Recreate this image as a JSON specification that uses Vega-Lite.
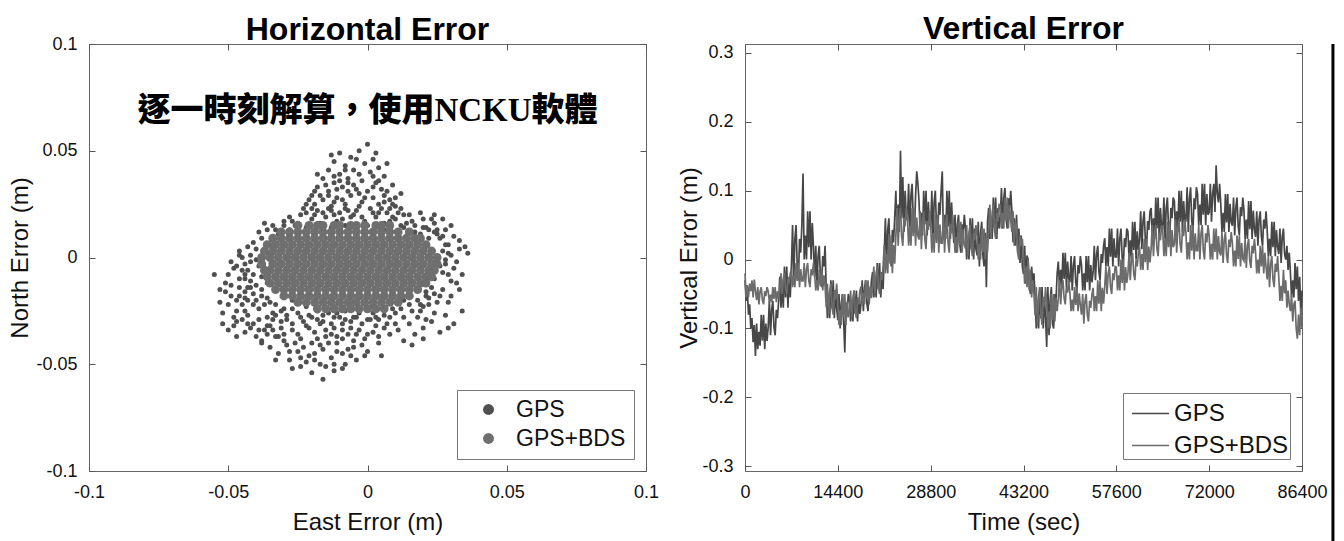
{
"$schema":"https://vega.github.io/schema/vega-lite/v6.json",
"background":"white",
"padding":{"left":8,"top":12,"right":0,"bottom":0},
"spacing":17,
"config":{
 "font":"Liberation Sans",
 "view":{"stroke":"#666666","strokeWidth":1},
 "axis":{"domain":false,"grid":false,"tickColor":"#555555","tickSize":-6,"labelPadding":18,"labelFontSize":18,"labelColor":"#111111","labelFlush":false,"labelOverlap":false,"titleFontSize":24,"titleFontWeight":"normal","titleColor":"#111111"},
 "axisX":{"titlePadding":9},
 "axisY":{"titlePadding":3},
 "title":{"fontSize":32,"fontWeight":"bold","color":"#000000","anchor":"middle"}
},
"resolve":{"scale":{"color":"independent"},"legend":{"color":"independent"}},
"hconcat":[
{
"width":557,"height":427,
"title":{"text":"Horizontal Error","offset":-12},
"layer":[
 {"data":{"values":"x,y\n0,0.053\n-0.003,0.05\n-0.01,0.049\n-0.006,0.047\n0.002,0.046\n-0.012,0.045\n-0.001,0.044\n-0.008,0.043\n0.004,0.042\n-0.014,0.041\n-0.005,0.041\n0.001,0.04\n-0.01,0.039\n0.006,0.038\n-0.016,0.037\n-0.007,0.037\n-0.002,0.036\n0.003,0.035\n-0.012,0.035\n0.009,0.034\n-0.018,0.033\n-0.009,0.033\n-0.004,0.032\n0.005,0.032\n0,0.031\n-0.014,0.031\n0.012,0.03\n-0.02,0.029\n-0.006,0.029\n0.002,0.028\n-0.011,0.028\n0.008,0.027\n-0.016,0.027\n-0.002,0.026\n0.004,0.025\n-0.022,0.025\n-0.008,0.025\n0.01,0.024\n-0.013,0.024\n-0.018,0.022\n0.001,0.023\n-0.004,0.022\n0.007,0.021\n-0.01,0.021\n0.013,0.02\n-0.024,0.02\n-0.015,0.019\n-0.006,0.019\n0.003,0.019\n0.01,0.018\n-0.02,0.018\n-0.001,0.017\n-0.011,0.017\n0.016,0.017\n0.006,0.016\n-0.027,0.017\n-0.017,0.016\n-0.008,0.015\n0,0.015\n0.012,0.015\n-0.03,0.015\n-0.022,0.014\n0.02,0.014\n-0.013,0.014\n0.006,0.013\n0.017,0.012\n0.024,0.012\n-0.017,0.029\n-0.003,0.03\n0.006,0.029\n-0.009,0.027\n-0.013,0.022\n0.004,0.021\n-0.019,0.025\n0.008,0.023\n-0.005,0.034\n-0.011,0.032\n-0.015,0.034\n-0.007,0.035\n0.002,0.033\n0.007,0.031\n-0.021,0.027\n-0.003,0.024\n-0.016,0.021\n-0.007,0.022\n0.005,0.023\n0.011,0.021\n-0.022,0.021\n-0.009,0.018\n0.008,0.017\n0.014,0.016\n-0.026,0.015\n-0.004,0.015\n-0.012,0.038\n0.002,0.038\n-0.008,0.041\n-0.004,0.046\n0.003,0.049\n-0.013,0.048\n0.007,0.044\n-0.018,0.039\n-0.01,0.036\n-0.003,0.039\n0.004,0.036\n-0.014,0.029\n-0.007,0.031\n0.01,0.028\n-0.019,0.031\n-0.001,0.028\n0.006,0.026\n-0.012,0.026\n-0.02,0.023\n0.009,0.025\n-0.036,0.013\n-0.032,0.011\n-0.038,0.009\n-0.028,0.013\n-0.034,0.006\n-0.04,0.004\n-0.025,0.016\n-0.031,0.008\n-0.042,0.001\n-0.036,0.002\n-0.044,-0.003\n0.02,0.018\n0.024,0.016\n0.028,0.013\n0.026,0.009\n0.031,0.01\n0.029,0.006\n0.033,0.004\n0.035,0.005\n0.03,0.001\n0.027,0.003\n0.032,-0.002\n0.024,0.02\n0.022,0.013\n0.03,0.015\n0.036,0.002\n0.033,0.008\n0.027,0.018\n0.025,0.011\n0.019,0.021\n-0.028,0.019\n-0.023,0.023\n-0.019,0.02\n-0.012,0.02\n-0.005,0.02\n0.002,0.021\n0.009,0.019\n0.015,0.02\n-0.014,0.023\n0.012,0.023\n-0.002,0.019\n-0.008,0.023\n-0.034,0.015\n-0.039,0.012\n-0.041,0.007\n-0.037,0.016\n-0.033,0.013\n-0.043,0.005\n-0.03,0.017\n-0.043,-0.006\n-0.044,-0.01\n-0.042,-0.014\n-0.046,0.001\n-0.041,-0.017\n-0.044,-0.019\n-0.038,-0.015\n-0.036,-0.019\n-0.033,-0.022\n-0.031,-0.025\n-0.027,-0.024\n-0.029,-0.027\n-0.024,-0.028\n-0.034,-0.029\n-0.021,-0.027\n-0.017,-0.031\n-0.012,-0.028\n-0.009,-0.031\n-0.005,-0.028\n0,-0.029\n0.003,-0.028\n0.007,-0.031\n0.01,-0.026\n0.012,-0.024\n0.015,-0.022\n0.018,-0.02\n0.021,-0.018\n0.023,-0.014\n0.024,-0.017\n0.02,-0.023\n0.027,-0.007\n0.028,-0.003\n0.029,0.002\n0.028,0.006\n0.027,0.01\n0.025,0.013\n0.023,0.018\n0.021,0.014\n0.013,0.014\n0.017,0.015\n0.019,0.011\n0.022,0.009\n-0.048,-0.005\n-0.051,-0.012\n-0.046,-0.01\n-0.044,-0.016\n-0.049,-0.018\n-0.052,-0.026\n-0.045,-0.022\n-0.041,-0.008\n-0.04,-0.013\n-0.043,-0.027\n-0.038,-0.018\n-0.047,-0.03\n-0.041,-0.031\n-0.039,-0.024\n-0.036,-0.028\n-0.044,-0.035\n-0.05,-0.034\n-0.037,-0.034\n-0.042,-0.002\n-0.045,0\n-0.039,-0.004\n-0.05,-0.008\n-0.043,-0.02\n-0.047,-0.025\n-0.04,-0.037\n-0.053,-0.021\n-0.035,-0.032\n-0.038,-0.04\n-0.033,-0.037\n-0.046,-0.014\n-0.042,-0.011\n-0.049,-0.002\n-0.047,-0.02\n-0.051,-0.016\n-0.044,-0.025\n-0.048,-0.028\n-0.042,-0.033\n-0.039,-0.029\n-0.04,-0.02\n-0.045,-0.006\n-0.043,-0.014\n-0.038,-0.009\n-0.034,-0.026\n-0.037,-0.022\n-0.036,-0.012\n-0.04,-0.001\n-0.047,-0.037\n-0.031,-0.03\n-0.052,-0.031\n-0.055,-0.008\n-0.046,0.003\n-0.049,-0.013\n-0.046,-0.018\n-0.05,-0.022\n-0.045,-0.029\n-0.043,-0.031\n-0.048,-0.032\n-0.041,-0.022\n-0.039,-0.034\n-0.036,-0.036\n-0.044,-0.008\n-0.047,-0.004\n-0.053,-0.015\n-0.016,-0.057\n-0.02,-0.054\n-0.012,-0.053\n-0.024,-0.051\n-0.008,-0.05\n-0.017,-0.05\n-0.028,-0.048\n-0.004,-0.048\n-0.013,-0.047\n-0.021,-0.046\n-0.032,-0.045\n-0.009,-0.045\n0,-0.044\n-0.025,-0.044\n-0.016,-0.043\n-0.035,-0.042\n-0.005,-0.042\n-0.029,-0.041\n-0.011,-0.04\n0.004,-0.04\n-0.02,-0.04\n-0.038,-0.039\n-0.024,-0.038\n-0.001,-0.038\n-0.015,-0.037\n-0.032,-0.037\n-0.007,-0.036\n0.008,-0.036\n-0.019,-0.035\n-0.027,-0.034\n-0.003,-0.034\n-0.012,-0.033\n0.003,-0.032\n-0.036,-0.032\n-0.022,-0.032\n0.01,-0.031\n-0.016,-0.03\n-0.006,-0.03\n-0.029,-0.029\n0.001,-0.029\n-0.01,-0.028\n-0.02,-0.028\n0.013,-0.028\n-0.033,-0.027\n-0.025,-0.026\n0.006,-0.027\n-0.014,-0.026\n-0.003,-0.026\n0.016,-0.025\n-0.008,-0.025\n-0.018,-0.025\n0.009,-0.024\n-0.03,-0.024\n-0.022,-0.023\n0.002,-0.023\n-0.012,-0.023\n0.019,-0.022\n-0.035,-0.021\n-0.005,-0.021\n0.013,-0.02\n-0.027,-0.02\n-0.016,-0.02\n0.022,-0.019\n0.006,-0.019\n-0.009,-0.018\n-0.018,-0.029\n-0.013,-0.031\n-0.008,-0.029\n-0.002,-0.031\n0.004,-0.029\n0.008,-0.028\n-0.023,-0.03\n-0.004,-0.028\n0.002,-0.026\n-0.016,-0.027\n-0.011,-0.026\n-0.006,-0.033\n-0.026,-0.04\n-0.018,-0.038\n-0.009,-0.038\n-0.004,-0.036\n0.002,-0.035\n-0.014,-0.04\n-0.03,-0.036\n-0.023,-0.042\n-0.007,-0.043\n-0.002,-0.041\n-0.019,-0.045\n-0.011,-0.044\n-0.027,-0.031\n-0.031,-0.033\n0.006,-0.033\n0.011,-0.034\n0.015,-0.031\n0.018,-0.028\n-0.013,-0.036\n-0.001,-0.046\n-0.015,-0.051\n-0.027,-0.052\n-0.033,-0.048\n-0.022,-0.049\n-0.009,-0.052\n0.005,-0.046\n-0.021,-0.033\n-0.015,-0.034\n-0.009,-0.034\n-0.025,-0.036\n-0.011,-0.037\n-0.005,-0.039\n-0.017,-0.041\n-0.03,-0.039\n-0.006,-0.046\n-0.019,-0.048\n-0.012,-0.05\n-0.024,-0.047\n0,-0.036\n0.004,-0.037\n-0.034,-0.034\n-0.028,-0.044\n0.026,-0.004\n0.029,-0.008\n0.024,-0.01\n0.032,-0.012\n0.027,-0.015\n0.021,-0.016\n0.03,-0.018\n0.025,-0.021\n0.034,-0.025\n0.019,-0.025\n0.028,-0.027\n0.023,-0.03\n0.02,-0.033\n0.026,-0.035\n0.017,-0.036\n0.031,-0.031\n0.013,-0.039\n0.022,-0.022\n0.028,-0.001\n0.031,-0.005\n0.033,-0.015\n0.029,-0.021\n0.024,-0.026\n0.021,-0.029\n0.026,-0.018\n0.02,-0.038\n0.016,-0.041\n0.029,-0.033\n0.034,-0.008\n0.03,-0.011","format":{"type":"csv","parse":{"x":"number","y":"number"}}},
  "mark":{"type":"point","filled":true,"size":25,"opacity":1},
  "encoding":{
   "x":{"field":"x","type":"quantitative","scale":{"domain":[-0.1,0.1],"nice":false,"zero":false},"axis":{"orient":"bottom","values":[-0.1,-0.05,0,0.05,0.1],"labelExpr":"'' + datum.value","title":"East Error (m)"}},
   "y":{"field":"y","type":"quantitative","scale":{"domain":[-0.1,0.1],"nice":false,"zero":false},"axis":{"orient":"left","values":[-0.1,-0.05,0,0.05,0.1],"labelExpr":"'' + datum.value","title":"North Error (m)"}},
   "color":{"datum":"GPS","scale":{"domain":["GPS","GPS+BDS"],"range":["#505050","#6f6f6f"]},"legend":{"title":null,"orient":"bottom-right","offset":12,"strokeColor":"#777777","fillColor":"white","padding":8,"symbolOffset":12,"labelFontSize":23,"labelColor":"#111111","labelOffset":16,"symbolSize":120,"symbolType":"circle","rowPadding":5}}
  }},
 {"data":{"values":"x,y\n-0.025,0.015\n-0.021,0.015\n-0.018,0.015\n-0.016,0.015\n-0.012,0.015\n-0.01,0.015\n-0.006,0.015\n-0.004,0.015\n-0.001,0.015\n0.003,0.015\n0.005,0.015\n0.008,0.015\n-0.031,0.012\n-0.028,0.012\n-0.025,0.012\n-0.022,0.012\n-0.019,0.012\n-0.016,0.012\n-0.013,0.012\n-0.01,0.012\n-0.007,0.012\n-0.004,0.012\n-0.001,0.012\n0.002,0.012\n0.005,0.012\n0.008,0.012\n0.011,0.012\n0.015,0.012\n-0.034,0.009\n-0.031,0.009\n-0.028,0.009\n-0.025,0.009\n-0.022,0.009\n-0.019,0.009\n-0.016,0.009\n-0.013,0.009\n-0.01,0.009\n-0.007,0.009\n-0.004,0.009\n-0.001,0.009\n0.002,0.009\n0.005,0.009\n0.008,0.009\n0.011,0.009\n0.014,0.009\n0.017,0.009\n0.019,0.009\n-0.036,0.006\n-0.033,0.006\n-0.03,0.006\n-0.027,0.006\n-0.024,0.006\n-0.021,0.006\n-0.018,0.006\n-0.015,0.006\n-0.012,0.006\n-0.009,0.006\n-0.006,0.006\n-0.003,0.006\n0,0.006\n0.003,0.006\n0.006,0.006\n0.009,0.006\n0.012,0.006\n0.015,0.006\n0.018,0.006\n0.021,0.006\n-0.037,0.003\n-0.034,0.003\n-0.031,0.003\n-0.028,0.003\n-0.025,0.003\n-0.022,0.003\n-0.019,0.003\n-0.016,0.003\n-0.013,0.003\n-0.01,0.003\n-0.007,0.003\n-0.004,0.003\n-0.001,0.003\n0.002,0.003\n0.005,0.003\n0.008,0.003\n0.011,0.003\n0.014,0.003\n0.017,0.003\n0.02,0.003\n0.023,0.003\n-0.038,0\n-0.035,0\n-0.032,0\n-0.029,0\n-0.026,0\n-0.023,0\n-0.02,0\n-0.017,0\n-0.014,0\n-0.011,0\n-0.008,0\n-0.005,0\n-0.002,0\n0.001,0\n0.004,0\n0.007,0\n0.01,0\n0.013,0\n0.016,0\n0.019,0\n0.022,0\n0.025,0\n-0.038,-0.003\n-0.034,-0.003\n-0.031,-0.003\n-0.028,-0.003\n-0.025,-0.003\n-0.022,-0.003\n-0.019,-0.003\n-0.016,-0.003\n-0.013,-0.003\n-0.01,-0.003\n-0.007,-0.003\n-0.004,-0.003\n-0.001,-0.003\n0.002,-0.003\n0.005,-0.003\n0.008,-0.003\n0.011,-0.003\n0.014,-0.003\n0.017,-0.003\n0.02,-0.003\n0.023,-0.003\n0.025,-0.003\n-0.037,-0.006\n-0.035,-0.006\n-0.032,-0.006\n-0.029,-0.006\n-0.026,-0.006\n-0.023,-0.006\n-0.02,-0.006\n-0.017,-0.006\n-0.014,-0.006\n-0.011,-0.006\n-0.008,-0.006\n-0.005,-0.006\n-0.002,-0.006\n0.001,-0.006\n0.004,-0.006\n0.007,-0.006\n0.01,-0.006\n0.013,-0.006\n0.016,-0.006\n0.019,-0.006\n0.022,-0.006\n0.024,-0.006\n-0.036,-0.009\n-0.033,-0.009\n-0.03,-0.009\n-0.027,-0.009\n-0.024,-0.009\n-0.021,-0.009\n-0.018,-0.009\n-0.015,-0.009\n-0.012,-0.009\n-0.009,-0.009\n-0.006,-0.009\n-0.003,-0.009\n0,-0.009\n0.003,-0.009\n0.006,-0.009\n0.009,-0.009\n0.012,-0.009\n0.015,-0.009\n0.018,-0.009\n0.021,-0.009\n0.023,-0.009\n-0.035,-0.012\n-0.032,-0.012\n-0.029,-0.012\n-0.026,-0.012\n-0.023,-0.012\n-0.02,-0.012\n-0.017,-0.012\n-0.014,-0.012\n-0.011,-0.012\n-0.008,-0.012\n-0.005,-0.012\n-0.002,-0.012\n0.001,-0.012\n0.004,-0.012\n0.007,-0.012\n0.01,-0.012\n0.013,-0.012\n0.016,-0.012\n0.019,-0.012\n0.021,-0.012\n-0.033,-0.015\n-0.03,-0.015\n-0.027,-0.015\n-0.024,-0.015\n-0.021,-0.015\n-0.018,-0.015\n-0.015,-0.015\n-0.012,-0.015\n-0.009,-0.015\n-0.006,-0.015\n-0.003,-0.015\n0,-0.015\n0.003,-0.015\n0.006,-0.015\n0.009,-0.015\n0.012,-0.015\n0.015,-0.015\n0.018,-0.015\n-0.03,-0.018\n-0.027,-0.018\n-0.024,-0.018\n-0.021,-0.018\n-0.018,-0.018\n-0.015,-0.018\n-0.012,-0.018\n-0.009,-0.018\n-0.006,-0.018\n-0.003,-0.018\n0,-0.018\n0.003,-0.018\n0.006,-0.018\n0.009,-0.018\n0.012,-0.018\n0.015,-0.018\n-0.025,-0.021\n-0.022,-0.021\n-0.019,-0.021\n-0.016,-0.021\n-0.013,-0.021\n-0.01,-0.021\n-0.007,-0.021\n-0.004,-0.021\n-0.001,-0.021\n0.002,-0.021\n0.005,-0.021\n0.008,-0.021\n0.011,-0.021\n-0.018,-0.024\n-0.015,-0.024\n-0.012,-0.024\n-0.009,-0.024\n-0.006,-0.024\n-0.003,-0.024\n0,-0.024\n0.003,-0.024\n0.006,-0.024","format":{"type":"csv","parse":{"x":"number","y":"number"}}},
  "mark":{"type":"point","filled":true,"size":80,"opacity":1},
  "encoding":{
   "x":{"field":"x","type":"quantitative","axis":{"orient":"top","values":[-0.1,-0.05,0,0.05,0.1],"labels":false,"title":null}},
   "y":{"field":"y","type":"quantitative","axis":{"orient":"right","values":[-0.1,-0.05,0,0.05,0.1],"labels":false,"title":null}},
   "color":{"datum":"GPS+BDS"}
  }},
 {"data":{"values":[{"x":0,"y":0.0686,"label":"逐一時刻解算，使用NCKU軟體"}]},
  "mark":{"type":"text","font":"Liberation Serif, Noto Sans CJK TC","fontSize":33,"fontWeight":900,"color":"#000000"},
  "encoding":{"x":{"field":"x","type":"quantitative","axis":null},"y":{"field":"y","type":"quantitative","axis":null},"text":{"field":"label"}}}
],
"resolve":{"axis":{"x":"independent","y":"independent"}}
},
{
"width":557,"height":427,
"title":{"text":"Vertical Error","offset":-3},
"data":{"values":"t,g,b\n0,-0.03,-0.02\n180,-0.06,-0.055\n360,-0.045,-0.037\n540,-0.08,-0.055\n720,-0.065,-0.035\n900,-0.1,-0.046\n1080,-0.085,-0.03\n1260,-0.12,-0.055\n1440,-0.095,-0.029\n1620,-0.14,-0.046\n1800,-0.093,-0.059\n1980,-0.13,-0.04\n2160,-0.105,-0.065\n2340,-0.125,-0.046\n2520,-0.08,-0.04\n2700,-0.118,-0.059\n2880,-0.08,-0.065\n3060,-0.13,-0.046\n3240,-0.093,-0.053\n3420,-0.118,-0.04\n3600,-0.098,-0.046\n3780,-0.06,-0.062\n3960,-0.11,-0.051\n4140,-0.073,-0.062\n4320,-0.06,-0.04\n4500,-0.098,-0.057\n4680,-0.11,-0.04\n4860,-0.073,-0.062\n5040,-0.085,-0.046\n5220,-0.06,-0.057\n5400,-0.025,-0.043\n5580,-0.07,-0.02\n5760,-0.04,-0.05\n5940,-0.07,-0.028\n6120,-0.01,-0.02\n6300,-0.055,-0.043\n6480,-0.01,-0.05\n6660,-0.07,-0.028\n6840,-0.025,-0.035\n7020,-0.055,-0.02\n7200,-0.01,-0.014\n7380,0.05,-0.04\n7560,-0.03,-0.023\n7740,0.03,-0.04\n7920,0.05,-0.005\n8100,-0.01,-0.031\n8280,-0.03,-0.005\n8460,0.03,-0.04\n8640,0.01,-0.014\n8820,0.05,-0.031\n9000,0.125,-0.031\n9180,0,-0.005\n9360,0.035,-0.04\n9540,0,-0.014\n9720,0.07,-0.005\n9900,0.018,-0.031\n10080,0.07,-0.04\n10260,0,-0.014\n10440,0.053,-0.023\n10620,0.018,-0.005\n10800,-0.025,-0.023\n10980,0.02,-0.045\n11160,-0.04,-0.03\n11340,0.005,-0.045\n11520,0.02,-0.015\n11700,-0.025,-0.038\n11880,-0.04,-0.015\n12060,0.005,-0.045\n12240,-0.01,-0.023\n12420,0.02,-0.038\n12600,-0.044,-0.069\n12780,-0.085,-0.035\n12960,-0.058,-0.08\n13140,-0.085,-0.046\n13320,-0.03,-0.035\n13500,-0.071,-0.069\n13680,-0.03,-0.08\n13860,-0.085,-0.046\n14040,-0.044,-0.058\n14220,-0.071,-0.035\n14400,-0.088,-0.061\n14580,-0.05,-0.095\n14760,-0.1,-0.073\n14940,-0.063,-0.095\n15120,-0.05,-0.05\n15300,-0.088,-0.084\n15480,-0.135,-0.05\n15660,-0.063,-0.095\n15840,-0.075,-0.061\n16020,-0.05,-0.084\n16200,-0.056,-0.075\n16380,-0.09,-0.045\n16560,-0.068,-0.085\n16740,-0.09,-0.055\n16920,-0.045,-0.045\n17100,-0.079,-0.075\n17280,-0.045,-0.085\n17460,-0.09,-0.055\n17640,-0.056,-0.065\n17820,-0.079,-0.045\n18000,-0.064,-0.039\n18180,-0.03,-0.065\n18360,-0.075,-0.048\n18540,-0.041,-0.065\n18720,-0.03,-0.03\n18900,-0.064,-0.056\n19080,-0.075,-0.03\n19260,-0.041,-0.065\n19440,-0.053,-0.039\n19620,-0.03,-0.056\n19800,-0.018,-0.04\n19980,-0.055,-0.01\n20160,-0.03,-0.05\n20340,-0.055,-0.02\n20520,-0.005,-0.01\n20700,-0.043,-0.04\n20880,-0.005,-0.05\n21060,-0.055,-0.02\n21240,-0.018,-0.03\n21420,-0.043,-0.01\n21600,0.008,0.021\n21780,0.06,-0.02\n21960,-0.01,0.008\n22140,0.043,-0.02\n22320,0.06,0.035\n22500,0.008,-0.006\n22680,-0.01,0.035\n22860,0.043,-0.02\n23040,0.025,0.021\n23220,0.06,-0.006\n23400,0.1,0.034\n23580,0.04,0.075\n23760,0.08,0.02\n23940,0.04,0.061\n24120,0.158,0.075\n24300,0.06,0.034\n24480,0.12,0.02\n24660,0.04,0.061\n24840,0.1,0.048\n25020,0.06,0.075\n25200,0.058,0.061\n25380,0.11,0.02\n25560,0.04,0.048\n25740,0.093,0.02\n25920,0.11,0.075\n26100,0.058,0.034\n26280,0.04,0.075\n26460,0.093,0.02\n26640,0.128,0.061\n26820,0.11,0.034\n27000,0.084,0.029\n27180,0.035,0.07\n27360,0.068,0.015\n27540,0.035,0.056\n27720,0.1,0.07\n27900,0.051,0.029\n28080,0.1,0.015\n28260,0.035,0.056\n28440,0.084,0.043\n28620,0.051,0.07\n28800,0.048,0.051\n28980,0.1,0.01\n29160,0.03,0.038\n29340,0.083,0.01\n29520,0.1,0.065\n29700,0.048,0.024\n29880,0.03,0.065\n30060,0.083,0.01\n30240,0.065,0.051\n30420,0.1,0.024\n30600,0.128,0.024\n30780,0.03,0.065\n30960,0.065,0.01\n31140,0.03,0.051\n31320,0.1,0.065\n31500,0.048,0.024\n31680,0.1,0.01\n31860,0.03,0.051\n32040,0.083,0.038\n32220,0.048,0.065\n32400,0.024,0.044\n32580,0.065,0.01\n32760,0.01,0.033\n32940,0.051,0.01\n33120,0.065,0.055\n33300,0.024,0.021\n33480,0.01,0.055\n33660,0.051,0.01\n33840,0.038,0.044\n34020,0.065,0.021\n34200,0.045,0.016\n34380,0,0.05\n34560,0.03,0.005\n34740,0,0.039\n34920,0.06,0.05\n35100,0.015,0.016\n35280,0.06,0.005\n35460,0,0.039\n35640,0.045,0.028\n35820,0.015,0.05\n36000,0.006,0.034\n36180,0.055,0\n36360,-0.01,0.023\n36540,0.039,0\n36720,0.055,0.045\n36900,0.006,0.011\n37080,-0.01,0.045\n37260,0.039,0\n37440,-0.04,0.034\n37620,0.055,0.011\n37800,0.075,0.043\n37980,0.03,0.08\n38160,0.06,0.03\n38340,0.03,0.068\n38520,0.09,0.08\n38700,0.045,0.043\n38880,0.09,0.03\n39060,0.03,0.068\n39240,0.075,0.055\n39420,0.045,0.08\n39600,0.06,0.079\n39780,0.104,0.045\n39960,0.045,0.068\n40140,0.089,0.045\n40320,0.104,0.09\n40500,0.06,0.056\n40680,0.045,0.09\n40860,0.089,0.045\n41040,0.075,0.079\n41220,0.1,0.056\n41400,0.07,0.04\n41580,0.025,0.07\n41760,0.06,0.02\n41940,0.02,0.055\n42120,0.065,0.05\n42300,0.01,0.01\n42480,0.045,0\n42660,-0.005,0.035\n42840,0.035,0.02\n43020,-0.01,0.03\n43200,-0.021,0.003\n43380,0.02,-0.035\n43560,-0.035,-0.01\n43740,0.006,-0.04\n43920,0,0\n44100,-0.04,-0.045\n44280,-0.05,-0.015\n44460,-0.01,-0.055\n44640,-0.035,-0.03\n44820,-0.02,-0.05\n45000,-0.055,-0.081\n45180,-0.1,-0.04\n45360,-0.07,-0.095\n45540,-0.1,-0.054\n45720,-0.04,-0.04\n45900,-0.085,-0.081\n46080,-0.04,-0.095\n46260,-0.1,-0.054\n46440,-0.055,-0.068\n46620,-0.085,-0.04\n46800,-0.127,-0.063\n46980,-0.04,-0.1\n47160,-0.11,-0.075\n47340,-0.058,-0.1\n47520,-0.04,-0.05\n47700,-0.093,-0.088\n47880,-0.1,-0.05\n48060,-0.05,-0.09\n48240,-0.06,-0.055\n48420,-0.02,-0.075\n48600,-0.003,-0.056\n48780,-0.04,-0.03\n48960,-0.015,-0.065\n49140,-0.04,-0.039\n49320,0.01,-0.03\n49500,-0.028,-0.056\n49680,0.01,-0.065\n49860,-0.04,-0.039\n50040,-0.003,-0.048\n50220,-0.028,-0.03\n50400,-0.033,-0.049\n50580,0.005,-0.075\n50760,-0.045,-0.058\n50940,-0.008,-0.075\n51120,0.005,-0.04\n51300,-0.033,-0.066\n51480,-0.045,-0.04\n51660,-0.008,-0.075\n51840,-0.02,-0.049\n52020,0.005,-0.066\n52200,-0.008,-0.08\n52380,-0.045,-0.05\n52560,-0.02,-0.093\n52740,-0.045,-0.06\n52920,0.005,-0.05\n53100,-0.033,-0.08\n53280,0.005,-0.09\n53460,-0.045,-0.06\n53640,-0.008,-0.07\n53820,-0.033,-0.05\n54000,-0.018,-0.041\n54180,0.02,-0.075\n54360,-0.03,-0.053\n54540,0.008,-0.075\n54720,0.02,-0.03\n54900,-0.018,-0.064\n55080,-0.03,-0.03\n55260,0.008,-0.075\n55440,-0.005,-0.041\n55620,0.02,-0.064\n55800,0.031,-0.04\n55980,-0.01,-0.01\n56160,0.018,-0.05\n56340,-0.01,-0.02\n56520,0.045,-0.01\n56700,0.004,-0.04\n56880,0.045,-0.05\n57060,-0.01,-0.02\n57240,0.031,-0.03\n57420,0.004,-0.01\n57600,0.004,-0.011\n57780,0.045,-0.045\n57960,-0.01,-0.023\n58140,0.031,-0.045\n58320,0.045,0\n58500,0.004,-0.034\n58680,-0.01,0\n58860,0.031,-0.045\n59040,0.018,-0.011\n59220,0.045,-0.034\n59400,0.041,-0.02\n59580,0,0.01\n59760,0.028,-0.03\n59940,0,0\n60120,0.055,0.01\n60300,0.014,-0.02\n60480,0.055,-0.03\n60660,0,0\n60840,0.041,-0.01\n61020,0.014,0.01\n61200,0.029,0.019\n61380,0.07,-0.015\n61560,0.015,0.008\n61740,0.056,-0.015\n61920,0.07,0.03\n62100,0.029,-0.004\n62280,0.015,0.03\n62460,0.056,-0.015\n62640,0.043,0.019\n62820,0.07,-0.004\n63000,0.075,0.016\n63180,0.03,0.05\n63360,0.06,0.005\n63540,0.03,0.039\n63720,0.09,0.05\n63900,0.045,0.016\n64080,0.09,0.005\n64260,0.03,0.039\n64440,0.075,0.028\n64620,0.045,0.05\n64800,0.045,0.043\n64980,0.09,0.005\n65160,0.03,0.03\n65340,0.075,0.005\n65520,0.09,0.055\n65700,0.045,0.018\n65880,0.03,0.055\n66060,0.075,0.005\n66240,0.06,0.043\n66420,0.09,0.018\n66600,0.085,0.022\n66780,0.04,0.058\n66960,0.07,0.01\n67140,0.04,0.046\n67320,0.1,0.058\n67500,0.055,0.022\n67680,0.1,0.01\n67860,0.04,0.046\n68040,0.085,0.034\n68220,0.055,0.058\n68400,0.056,0.038\n68580,0.105,0\n68760,0.04,0.025\n68940,0.089,0\n69120,0.105,0.05\n69300,0.056,0.013\n69480,0.04,0.05\n69660,0.089,0\n69840,0.073,0.038\n70020,0.105,0.013\n70200,0.095,0.013\n70380,0.05,0.05\n70560,0.08,0\n70740,0.05,0.038\n70920,0.11,0.05\n71100,0.065,0.013\n71280,0.11,0\n71460,0.05,0.038\n71640,0.095,0.025\n71820,0.065,0.05\n72000,0.069,0.034\n72180,0.11,0\n72360,0.055,0.023\n72540,0.096,0\n72720,0.11,0.045\n72900,0.069,0.011\n73080,0.137,0.045\n73260,0.096,0\n73440,0.083,0.034\n73620,0.11,0.011\n73800,0.081,0.006\n73980,0.04,0.04\n74160,0.068,-0.005\n74340,0.04,0.029\n74520,0.095,0.04\n74700,0.054,0.006\n74880,0.095,-0.005\n75060,0.04,0.029\n75240,0.081,0.018\n75420,0.054,0.04\n75600,0.049,0.024\n75780,0.09,-0.01\n75960,0.035,0.013\n76140,0.076,-0.01\n76320,0.09,0.035\n76500,0.049,0.001\n76680,0.035,0.035\n76860,0.076,-0.01\n77040,0.063,0.024\n77220,0.09,0.001\n77400,0.071,-0.002\n77580,0.03,0.03\n77760,0.058,-0.012\n77940,0.03,0.02\n78120,0.085,0.03\n78300,0.044,-0.002\n78480,0.085,-0.012\n78660,0.03,0.02\n78840,0.071,0.009\n79020,0.044,0.03\n79200,0.033,0.01\n79380,0.07,-0.02\n79560,0.02,0\n79740,0.058,-0.02\n79920,0.07,0.02\n80100,0.033,-0.01\n80280,0.02,0.02\n80460,0.058,-0.02\n80640,0.045,0.01\n80820,0.07,-0.01\n81000,0.043,-0.029\n81180,0.005,0.005\n81360,0.03,-0.04\n81540,0.005,-0.006\n81720,0.055,0.005\n81900,0.018,-0.029\n82080,0.055,-0.04\n82260,0.005,-0.006\n82440,0.043,-0.018\n82620,0.018,0.005\n82800,0.008,-0.026\n82980,0.045,-0.06\n83160,-0.005,-0.038\n83340,0.033,-0.06\n83520,0.045,-0.015\n83700,0.008,-0.049\n83880,0,-0.03\n84060,0.02,-0.07\n84240,-0.015,-0.045\n84420,0.01,-0.065\n84600,-0.018,-0.075\n84780,-0.055,-0.05\n84960,-0.03,-0.09\n85140,-0.055,-0.065\n85320,-0.005,-0.06\n85500,-0.043,-0.1\n85680,-0.01,-0.115\n85860,-0.06,-0.08\n86040,-0.025,-0.11\n86220,-0.08,-0.07\n86400,-0.045,-0.1","format":{"type":"csv","parse":{"t":"number","g":"number","b":"number"}}},
"layer":[
 {"mark":{"type":"line","strokeWidth":1.7},
  "encoding":{
   "x":{"field":"t","type":"quantitative","scale":{"domain":[0,86400],"nice":false,"zero":false},"axis":{"orient":"bottom","values":[0,14400,28800,43200,57600,72000,86400],"labelExpr":"'' + datum.value","title":"Time (sec)"}},
   "y":{"field":"g","type":"quantitative","scale":{"domain":[-0.307,0.313],"nice":false,"zero":false},"axis":{"orient":"left","values":[-0.3,-0.2,-0.1,0,0.1,0.2,0.3],"labelExpr":"'' + datum.value","title":"Vertical Error (m)","titlePadding":0}},
   "color":{"datum":"GPS","scale":{"domain":["GPS","GPS+BDS"],"range":["#474747","#6c6c6c"]},"legend":{"title":null,"orient":"bottom-right","offset":12,"strokeColor":"#777777","fillColor":"white","padding":1,"symbolOffset":7,"labelFontSize":24,"labelColor":"#111111","labelOffset":4,"symbolType":"stroke","symbolSize":1370,"symbolStrokeWidth":1.5,"rowPadding":-8}}
  }},
 {"mark":{"type":"line","strokeWidth":1.7},
  "encoding":{
   "x":{"field":"t","type":"quantitative","axis":{"orient":"top","values":[0,14400,28800,43200,57600,72000,86400],"labels":false,"title":null}},
   "y":{"field":"b","type":"quantitative","axis":{"orient":"right","values":[-0.3,-0.2,-0.1,0,0.1,0.2,0.3],"labels":false,"title":null}},
   "color":{"datum":"GPS+BDS"}
  }},
 {"data":{"values":[{"edge":"frame"}]},
  "mark":{"type":"rule","color":"#000000","strokeWidth":3},
  "encoding":{"x":{"datum":91200,"type":"quantitative","axis":null},"y":{"datum":0.313,"type":"quantitative","axis":null},"y2":{"datum":-0.41}}}
],
"resolve":{"axis":{"x":"independent","y":"independent"}}
}
]
}
